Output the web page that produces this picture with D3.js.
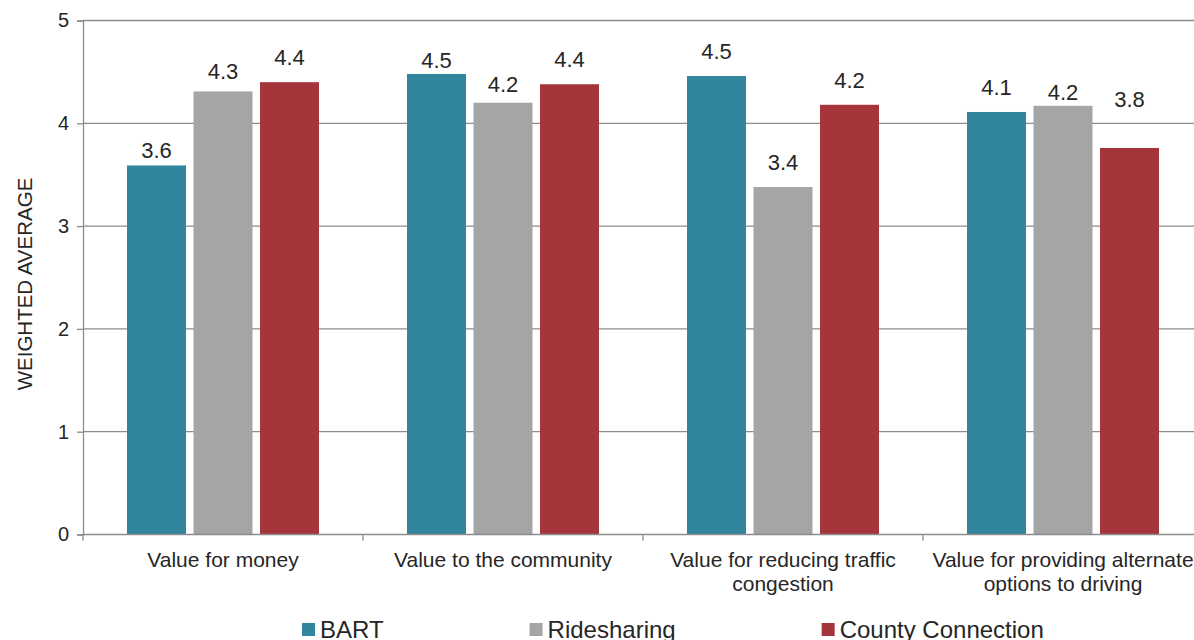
<!DOCTYPE html>
<html>
<head>
<meta charset="utf-8">
<script src="https://cdn.jsdelivr.net/npm/d3@7"></script>
<style>
  body { margin: 0; background: #fff; overflow: hidden; }
  svg { font-family: "Liberation Sans", Arial, sans-serif; display: block; }
</style>
</head>
<body>
<svg id="chart" width="1194" height="640"></svg>
<script>
// chart data
var categories = [
  ["Value for money"],
  ["Value to the community"],
  ["Value for reducing traffic", "congestion"],
  ["Value for providing alternate", "options to driving"]
];
var series = ["BART", "Ridesharing", "County Connection"];
var colors = ["#31859c", "#a5a5a5", "#a5343b"];
var bart = [3.59, 4.48, 4.46, 4.11];
var ridesharing = [4.31, 4.2, 3.38, 4.17];
var countyConnection = [4.4, 4.38, 4.18, 3.76];
var yTicks = [0, 1, 2, 3, 4, 5];

var values = [bart, ridesharing, countyConnection];

// how far each value label sits above its bar (the labels were placed by hand in the original)
var labelLift = [[7, 6, 17, 17], [12, 11, 17, 6], [17, 17, 17, 41]];

var svg = d3.select("#chart");
var margin = {left: 83, top: 20.5},
    plotW = 1120, plotH = 514;

var g = svg.append("g").attr("transform", "translate(" + margin.left + "," + margin.top + ")");

var x = d3.scaleBand()
  .domain(d3.range(categories.length))
  .range([0, plotW]);

var y = d3.scaleLinear().domain([0, 5]).range([plotH, 0]);

// inner band for the three bars
var barW = 59, gap = 7.5;
var xs = d3.scaleBand().domain(series)
  .range([x.bandwidth() / 2 - (barW * 1.5 + gap), x.bandwidth() / 2 + (barW * 1.5 + gap)])
  .paddingInner(gap / (barW + gap));

// gridlines
g.selectAll("line.grid")
  .data(yTicks.slice(1))
  .enter().append("line")
  .attr("x1", 0).attr("x2", plotW)
  .attr("y1", function(d) { return y(d); })
  .attr("y2", function(d) { return y(d); })
  .attr("stroke", "#8c8c8c").attr("stroke-width", 1.3);

// y axis
var yAxis = g.append("g")
  .call(d3.axisLeft(y).tickValues(yTicks).tickSize(6).tickPadding(8).tickFormat(d3.format("d")));
yAxis.select(".domain").attr("stroke", "#8c8c8c").attr("stroke-width", 1.3);
yAxis.selectAll(".tick line").attr("stroke", "#8c8c8c").attr("stroke-width", 1.3);
yAxis.selectAll(".tick text").attr("font-size", 20).attr("fill", "#262626")
  .attr("font-family", "Liberation Sans, Arial, sans-serif");

// bars
var groups = g.selectAll("g.cat")
  .data(categories)
  .enter().append("g")
  .attr("transform", function(d, i) { return "translate(" + x(i) + ",0)"; });

series.forEach(function(s, si) {
  groups.append("rect")
    .attr("x", xs(s))
    .attr("width", xs.bandwidth())
    .attr("y", function(d, i) { return y(values[si][i]); })
    .attr("height", function(d, i) { return plotH - y(values[si][i]); })
    .attr("fill", colors[si]);

  groups.append("text")
    .attr("x", xs(s) + xs.bandwidth() / 2)
    .attr("y", function(d, i) { return y(values[si][i]) - labelLift[si][i]; })
    .attr("text-anchor", "middle")
    .attr("font-size", 22)
    .attr("fill", "#262626")
    .text(function(d, i) { return values[si][i].toFixed(1); });
});

// x axis
var xAxis = g.append("g")
  .attr("transform", "translate(0," + plotH + ")");
xAxis.append("line")
  .attr("x1", 0).attr("x2", plotW)
  .attr("stroke", "#8c8c8c").attr("stroke-width", 1.3);
xAxis.selectAll("line.tick")
  .data(d3.range(categories.length + 1))
  .enter().append("line")
  .attr("x1", function(d) { return d * x.step(); })
  .attr("x2", function(d) { return d * x.step(); })
  .attr("y1", 0).attr("y2", 6)
  .attr("stroke", "#8c8c8c").attr("stroke-width", 1.3);

xAxis.selectAll("text.cat")
  .data(categories)
  .enter().append("text")
  .attr("text-anchor", "middle")
  .attr("font-size", 21)
  .attr("fill", "#262626")
  .attr("transform", function(d, i) { return "translate(" + (x(i) + x.bandwidth() / 2) + ",32)"; })
  .each(function(d) {
    var t = d3.select(this);
    d.forEach(function(line, li) {
      t.append("tspan").attr("x", 0).attr("y", li * 24).text(line);
    });
  });

// y axis title
svg.append("text")
  .attr("transform", "translate(32,284) rotate(-90)")
  .attr("text-anchor", "middle")
  .attr("font-size", 20.5)
  .attr("fill", "#262626")
  .text("WEIGHTED AVERAGE");

// legend
var legend = svg.append("g").attr("transform", "translate(302,629)");
var lx = 0;
series.forEach(function(s, si) {
  var item = legend.append("g").attr("transform", "translate(" + lx + ",0)");
  item.append("rect").attr("x", 0).attr("y", -6).attr("width", 13).attr("height", 13).attr("fill", colors[si]);
  var t = item.append("text").attr("x", 18).attr("y", 0).attr("dy", "0.36em")
    .attr("font-size", 24).attr("fill", "#262626").text(s);
  lx += 18 + t.node().getComputedTextLength() + 146;
});
</script>
</body>
</html>
